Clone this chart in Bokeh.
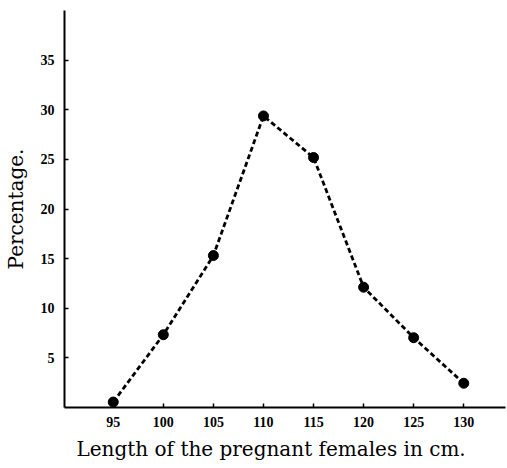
from bokeh.plotting import figure
from bokeh.models import FixedTicker, Range1d, Title
from bokeh.embed import file_html
from bokeh.resources import INLINE

lengths = [95, 100, 105, 110, 115, 120, 125, 130]
percentages = [0.5, 7.3, 15.3, 29.4, 25.2, 12.1, 7.0, 2.4]
y_ticks = [5, 10, 15, 20, 25, 30, 35]
x_ticks = [95, 100, 105, 110, 115, 120, 125, 130]

p = figure(width=507, height=468, output_backend="svg", toolbar_location=None,
           x_range=Range1d(90.13, 134.17), y_range=Range1d(-0.05, 40.05),
           min_border_left=62, min_border_right=2, min_border_top=10, min_border_bottom=61)
p.outline_line_color = None
p.xgrid.visible = False
p.ygrid.visible = False
p.background_fill_color = "white"
p.border_fill_color = "white"

p.line(lengths, percentages, line_color="black", line_width=2.8, line_dash="5 3")
p.scatter(lengths, percentages, size=10, color="black")

for ax, ticks in ((p.xaxis, x_ticks), (p.yaxis, y_ticks)):
    ax.ticker = FixedTicker(ticks=ticks)
    ax.axis_line_color = "black"
    ax.axis_line_width = 2
    ax.major_tick_in = 4
    ax.major_tick_out = 0
    ax.major_tick_line_color = "black"
    ax.major_tick_line_width = 1.5
    ax.minor_tick_line_color = None
    ax.major_label_text_font = "Liberation Serif"
    ax.major_label_text_font_style = "bold"
    ax.major_label_text_font_size = "14px"
    ax.major_label_text_color = "black"
    ax.axis_label_text_font = "DejaVu Serif"
    ax.axis_label_text_font_style = "normal"
    ax.axis_label_text_font_size = "20px"
    ax.axis_label_text_color = "black"

p.yaxis.axis_label = "Percentage."
p.xaxis.major_label_standoff = 9
p.yaxis.major_label_standoff = 10
p.yaxis.axis_label_standoff = 10

xlabel = Title(text="Length of the pregnant females in cm.", align="left", offset=12,
               text_font="DejaVu Serif", text_font_style="normal",
               text_font_size="20px", text_color="black", standoff=11)
p.add_layout(xlabel, "below")

open("out.html", "w").write(file_html(p, INLINE))
